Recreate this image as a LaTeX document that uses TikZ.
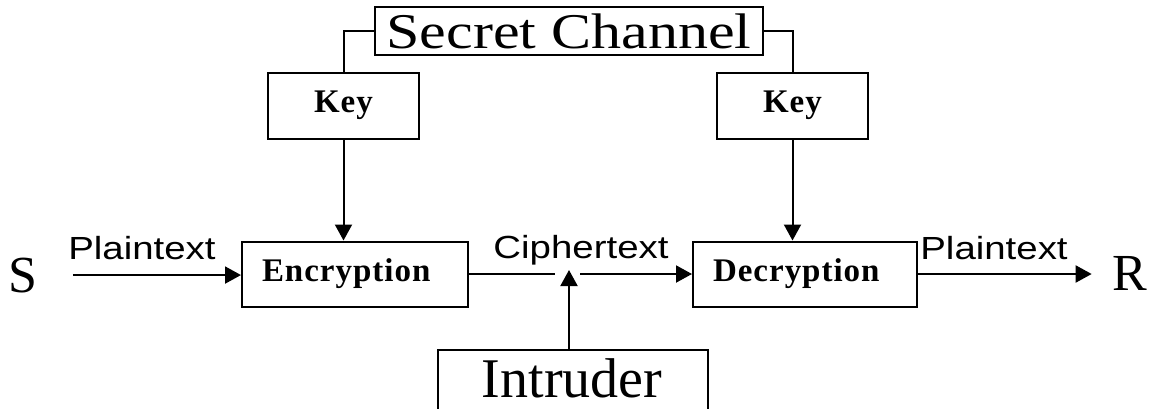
\documentclass[tikz,border=0pt]{standalone}
\usepackage{fontspec}
\setmainfont{Liberation Serif}
\newfontfamily\sansword[FakeStretch=1.2]{Liberation Sans}
\newfontfamily\wideserif[FakeStretch=1.2]{Liberation Serif}
\newfontfamily\spacedserif[LetterSpace=3]{Liberation Serif}
\usetikzlibrary{arrows.meta}

\begin{document}
\begin{tikzpicture}[x=0.5pt, y=-0.5pt, line width=1pt,
	blk/.style={draw, line width=1pt, inner sep=0pt},
	lbl/.style={inner sep=0pt, anchor=base, font={\sansword\fontsize{16}{18}\selectfont}},
	bold label/.style={font={\spacedserif\bfseries\fontsize{16.5}{18}\selectfont}},
	arr/.style={-{Triangle[length=8pt,width=8.5pt]}}]
	\useasboundingbox (0,0) rectangle (1157,408);
	% boxes
	\node [blk, minimum width=194pt, minimum height=24pt, font={\wideserif\fontsize{25}{30}\selectfont}] (chan) at (569,31) {Secret Channel};
	\node [blk, bold label, minimum width=75.5pt, minimum height=33pt] (key1) at (343.5,105.5) {Key};
	\node [blk, bold label, minimum width=75.5pt, minimum height=33pt] (key2) at (792.5,105.5) {Key};
	\node [blk, bold label, text width=93pt, inner xsep=10pt, minimum height=32.5pt, align=left] (enc) at (355,274) {Encryption};
	\node [blk, bold label, text width=92pt, inner xsep=10pt, minimum height=32.5pt, align=left] (dec) at (805,274) {Decryption};
	% the intruder box runs off the bottom edge
	\draw (438,420) |- (708,350) -- (708,420);
	\node [inner sep=0pt, anchor=base, font={\fontsize{28}{34}\selectfont}] (intr) at (572,397) {Intruder};
	\node [inner sep=0pt, anchor=base, font={\fontsize{26}{30}\selectfont}] (src) at (22.5,292) {S};
	\node [inner sep=0pt, inner xsep=10pt, anchor=base, font={\fontsize{26}{30}\selectfont}] (rcv) at (1130,290) {R};
	% labels on the lines
	\node [lbl] (pt1) at (142,259) {Plaintext};
	\node [lbl] (ct) at (581,258) {Ciphertext};
	\node [lbl] (pt2) at (994,259) {Plaintext};
	\coordinate (tap) at (569,270);
	\coordinate (intop) at (569,350);
	\coordinate (gapl) at (555,275);
	\coordinate (gapr) at (580,275);
	% connectors
	\draw (chan.west) -| (key1.north);
	\draw (chan.east) -| (key2.north);
	\draw [arr] (key1.south) -- (key1.south |- enc.north);
	\draw [arr] (key2.south) -- (key2.south |- dec.north);
	\draw [arr, shorten <=17.5pt] (src.east) -- (src.east -| enc.west);
	\draw (enc.east) -- (enc.east -| gapl);
	\draw [arr] (gapr |- dec.west) -- (dec.west);
	\draw [arr] (intop) -- (tap);
	\draw [arr] (dec.east) -- (dec.east -| rcv.west);
\end{tikzpicture}
\end{document}
